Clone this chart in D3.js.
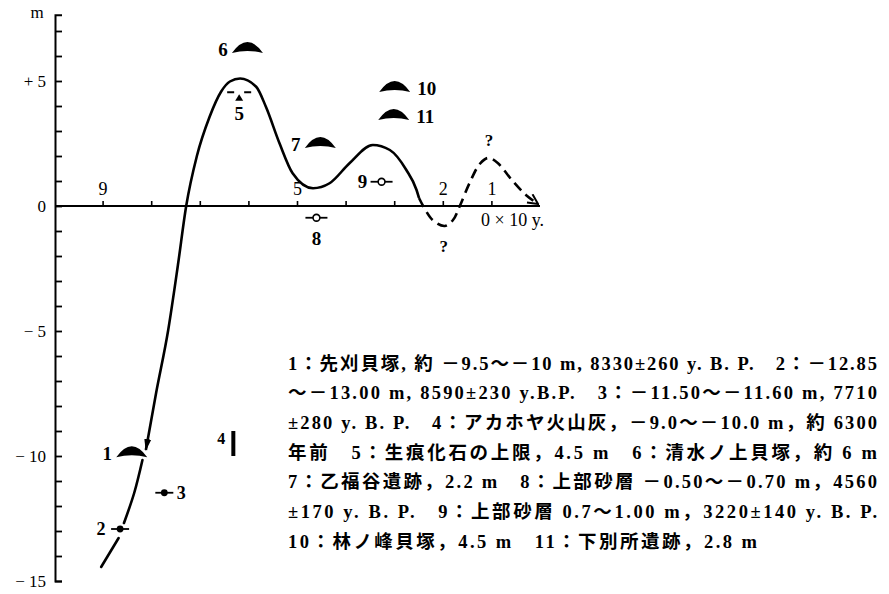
<!DOCTYPE html>
<html>
<head>
<meta charset="utf-8">
<script src="https://cdn.jsdelivr.net/npm/d3@7"></script>
<style>
  html, body { margin: 0; padding: 0; background: #fff; }
  svg { display: block; }
</style>
</head>
<body>
<svg width="889" height="594"></svg>
<script>
// time in 10^3 y.B.P., height in metres
const xTicks = [1, 2, 3, 4, 5, 6, 7, 8, 9];
const xTickLabels = [9, 5, 2, 1];
const yTicks = d3.range(-15, 8);
const yTickLabels = [5, 0, -5, -10, -15];

// sea level curve, broken where it passes the markers
const curveLower = [[9.03, -14.44], [8.67, -13.28]];
const curveMid = [[8.56, -12.68], [8.35, -11.48], [8.18, -10.16]];
const curveMain = [
  [8.11, -9.76], [7.90, -7.49], [7.65, -4.96], [7.45, -2.36], [7.28, 0.0],
  [7.06, 2.00], [6.80, 3.56], [6.56, 4.58], [6.38, 4.98], [6.17, 5.10],
  [5.84, 4.77], [5.64, 3.97], [5.36, 2.51], [5.09, 1.31], [4.67, 0.71],
  [4.33, 0.91], [3.92, 1.71], [3.44, 2.44], [3.09, 2.24], [2.75, 1.44],
  [2.54, 0.64], [2.49, 0.32]
];
const curveDashed = [
  [2.49, 0.32], [2.21, -0.56], [1.96, -0.80], [1.79, -0.56], [1.65, 0.0],
  [1.44, 0.96], [1.24, 1.68], [1.07, 1.92], [0.87, 1.72], [0.58, 1.04],
  [0.29, 0.44], [0.04, 0.08]
];

// markers
const caps = [
  { id: "1", t: 8.40, h: -10.05 },
  { id: "6", t: 6.02, h: 6.12 },
  { id: "7", t: 4.52, h: 2.32 },
  { id: "10", t: 2.99, h: 4.56 },
  { id: "11", t: 3.01, h: 3.44 }
];
const dots = [
  { id: "2", t: 8.64, h: -12.92 },
  { id: "3", t: 7.73, h: -11.47 }
];
const rings = [
  { id: "8", t: 4.60, h: -0.47 },
  { id: "9", t: 3.26, h: 0.97 }
];
const bars = [{ id: "4", t: 6.31, h0: -9.0, h1: -10.0 }];
const traces = [{ id: "5", t: 6.19, h: 4.55 }];
const queries = [
  { t: 1.05, h: 1.92 },
  { t: 1.98, h: -0.80 }
];

const notes = [
  "1：先刈貝塚, 約 －9.5～－10 m, 8330±260 y. B. P.　2：－12.85",
  "～－13.00 m, 8590±230 y.B.P.　3：－11.50～－11.60 m, 7710",
  "±280 y. B. P.　4：アカホヤ火山灰，－9.0～－10.0 m，約 6300",
  "年前　5：生痕化石の上限，4.5 m　6：清水ノ上貝塚，約 6 m",
  "7：乙福谷遺跡，2.2 m　8：上部砂層 －0.50～－0.70 m，4560",
  "±170 y. B. P.　9：上部砂層 0.7～1.00 m，3220±140 y. B. P.",
  "10：林ノ峰貝塚，4.5 m　11：下別所遺跡，2.8 m"
];

const svg = d3.select("svg");
const serif = "'Liberation Serif', 'DejaVu Serif', serif";
const mixed = "'Liberation Serif', 'Noto Sans CJK JP', serif";

const x = d3.scaleLinear().domain([10, 0]).range([54, 540]);
const y = d3.scaleLinear().domain([-15, 7.65]).range([581, 14.75]);

const defs = svg.append("defs");
defs.append("marker")
  .attr("id", "head")
  .attr("viewBox", "0 -5 12 10")
  .attr("refX", 11).attr("refY", 0)
  .attr("markerWidth", 12).attr("markerHeight", 10)
  .attr("markerUnits", "userSpaceOnUse")
  .attr("orient", "auto-start-reverse")
  .append("path")
  .attr("d", "M0,-3.5L12,0L0,3.5Z")
  .attr("fill", "#000");
defs.append("marker")
  .attr("id", "vee")
  .attr("viewBox", "0 -6 12 12")
  .attr("refX", 11).attr("refY", 0)
  .attr("markerWidth", 12).attr("markerHeight", 12)
  .attr("markerUnits", "userSpaceOnUse")
  .attr("orient", "auto")
  .append("path")
  .attr("d", "M1,-5L11,0L1,5")
  .attr("fill", "none")
  .attr("stroke", "#000")
  .attr("stroke-width", 2);

// y axis
const yMinor = svg.append("g")
  .attr("transform", "translate(55,0)")
  .call(d3.axisLeft(y).tickValues(yTicks).tickSize(-7).tickSizeOuter(-7).tickFormat(""));
yMinor.select(".domain").attr("stroke-width", 2);
yMinor.selectAll(".tick line").attr("stroke-width", 1.8);

const yLab = svg.append("g")
  .attr("transform", "translate(55,0)")
  .call(d3.axisLeft(y).tickValues(yTickLabels).tickSize(0).tickPadding(9)
    .tickFormat(d => d > 0 ? "+ " + d : d < 0 ? "− " + (-d) : "0"));
yLab.select(".domain").remove();
yLab.selectAll("text")
  .attr("font-family", serif)
  .attr("font-size", 17)
  .attr("fill", "#000");

svg.append("text")
  .attr("x", 37).attr("y", 18)
  .attr("text-anchor", "middle")
  .attr("font-family", serif)
  .attr("font-size", 17)
  .text("m");

// x axis along zero line
const xAx = svg.append("g")
  .attr("transform", `translate(0,${y(0)})`)
  .call(d3.axisTop(x).tickValues(xTicks).tickSize(5).tickSizeOuter(0).tickPadding(6)
    .tickFormat(d => xTickLabels.includes(d) ? d : ""));
xAx.select(".domain").attr("stroke-width", 2).attr("d", `M55,0H540`);
xAx.selectAll(".tick line").attr("stroke-width", 1.6);
xAx.selectAll("text")
  .attr("font-family", serif)
  .attr("font-size", 18)
  .attr("fill", "#000");

svg.append("text")
  .attr("x", 481).attr("y", y(0) + 20)
  .attr("font-family", serif)
  .attr("font-size", 18)
  .attr("fill", "#000")
  .text("0 × 10 y.");

// curve
const line = d3.line()
  .x(d => x(d[0]))
  .y(d => y(d[1]))
  .curve(d3.curveCatmullRom.alpha(0.5));
const lineMain = d3.line()
  .x(d => x(d[0]))
  .y(d => y(d[1]))
  .curve(d3.curveMonotoneX);

[curveLower, curveMid].forEach(seg => {
  svg.append("path")
    .attr("d", line(seg))
    .attr("fill", "none")
    .attr("stroke", "#000")
    .attr("stroke-width", 2.6)
    .attr("stroke-linecap", "round");
});
svg.append("path")
  .attr("d", lineMain(curveMain))
  .attr("fill", "none")
  .attr("stroke", "#000")
  .attr("stroke-width", 2.6)
  .attr("marker-start", "url(#head)");
svg.append("path")
  .attr("d", line(curveDashed))
  .attr("fill", "none")
  .attr("stroke", "#000")
  .attr("stroke-width", 2.6)
  .attr("stroke-dasharray", "10,6")
  .attr("marker-end", "url(#vee)");

// cap markers (shell mound / site)
const capW = 31, capH = 11;
const capG = svg.selectAll(".cap").data(caps).enter().append("g")
  .attr("transform", d => `translate(${x(d.t)},${y(d.h)})`);
capG.append("path")
  .attr("d", `M${-capW / 2},0Q0,${-2 * capH} ${capW / 2},0Q0,-4 ${-capW / 2},0Z`)
  .attr("fill", "#000");
capG.append("text")
  .attr("x", d => d.id.length > 1 ? capW / 2 + 7 : -capW / 2 - 9)
  .attr("y", -4)
  .attr("dy", "0.35em")
  .attr("text-anchor", d => d.id.length > 1 ? "start" : "middle")
  .attr("font-family", serif)
  .attr("font-weight", "bold")
  .attr("font-size", 19)
  .attr("fill", "#000")
  .text(d => d.id);

// dated dots
const dotG = svg.selectAll(".dot").data(dots).enter().append("g")
  .attr("transform", d => `translate(${x(d.t)},${y(d.h)})`);
dotG.append("line")
  .attr("x1", -9).attr("x2", 9)
  .attr("stroke", "#000").attr("stroke-width", 1.8);
dotG.append("circle").attr("r", 3.4).attr("fill", "#000");
dotG.append("text")
  .attr("x", d => d.id === "2" ? -19 : 17)
  .attr("dy", "0.35em")
  .attr("text-anchor", "middle")
  .attr("font-family", serif)
  .attr("font-weight", "bold")
  .attr("font-size", 18)
  .attr("fill", "#000")
  .text(d => d.id);

// sand layer rings
const ringG = svg.selectAll(".ring").data(rings).enter().append("g")
  .attr("transform", d => `translate(${x(d.t)},${y(d.h)})`);
ringG.append("line")
  .attr("x1", -11).attr("x2", 11)
  .attr("stroke", "#000").attr("stroke-width", 1.8);
ringG.append("circle")
  .attr("r", 3.4)
  .attr("fill", "#fff")
  .attr("stroke", "#000")
  .attr("stroke-width", 1.6);
ringG.append("text")
  .attr("x", d => d.id === "9" ? -19 : 0)
  .attr("y", d => d.id === "9" ? 0 : 21)
  .attr("dy", "0.35em")
  .attr("text-anchor", "middle")
  .attr("font-family", serif)
  .attr("font-weight", "bold")
  .attr("font-size", 19)
  .attr("fill", "#000")
  .text(d => d.id);

// volcanic ash bar
svg.selectAll(".bar").data(bars).enter().append("line")
  .attr("x1", d => x(d.t)).attr("x2", d => x(d.t))
  .attr("y1", d => y(d.h0)).attr("y2", d => y(d.h1))
  .attr("stroke", "#000").attr("stroke-width", 4);
svg.selectAll(".barlab").data(bars).enter().append("text")
  .attr("x", d => x(d.t) - 12)
  .attr("y", d => (y(d.h0) + y(d.h1)) / 2)
  .attr("text-anchor", "middle")
  .attr("font-family", serif)
  .attr("font-weight", "bold")
  .attr("font-size", 16)
  .attr("fill", "#000")
  .text(d => d.id);

// trace fossil upper limit
const trG = svg.selectAll(".trace").data(traces).enter().append("g")
  .attr("transform", d => `translate(${x(d.t)},${y(d.h)})`);
trG.append("path")
  .attr("d", "M-12,0H-5M5,0H12")
  .attr("stroke", "#000").attr("stroke-width", 2);
trG.append("path")
  .attr("d", "M0,2L4,8.5L-4,8.5Z")
  .attr("fill", "#000");
trG.append("text")
  .attr("y", 21)
  .attr("dy", "0.35em")
  .attr("text-anchor", "middle")
  .attr("font-family", serif)
  .attr("font-weight", "bold")
  .attr("font-size", 19)
  .attr("fill", "#000")
  .text(d => d.id);

// question marks on the dashed part
svg.selectAll(".q").data(queries).enter().append("text")
  .attr("x", d => x(d.t))
  .attr("y", d => y(d.h) + (d.h > 0 ? -18 : 20))
  .attr("dy", "0.35em")
  .attr("text-anchor", "middle")
  .attr("font-family", serif)
  .attr("font-weight", "bold")
  .attr("font-size", 17)
  .attr("fill", "#000")
  .text("?");

// notes
svg.selectAll(".note").data(notes).enter().append("text")
  .attr("x", 288)
  .attr("y", (d, i) => 363 + i * 29.7)
  .attr("dy", "0.36em")
  .attr("font-family", mixed)
  .attr("font-weight", "bold")
  .attr("font-size", 18.5)
  .attr("fill", "#000")
  .attr("textLength", (d, i) => i < notes.length - 1 ? 589 : 469)
  .attr("lengthAdjust", "spacing")
  .text(d => d);
</script>
</body>
</html>
